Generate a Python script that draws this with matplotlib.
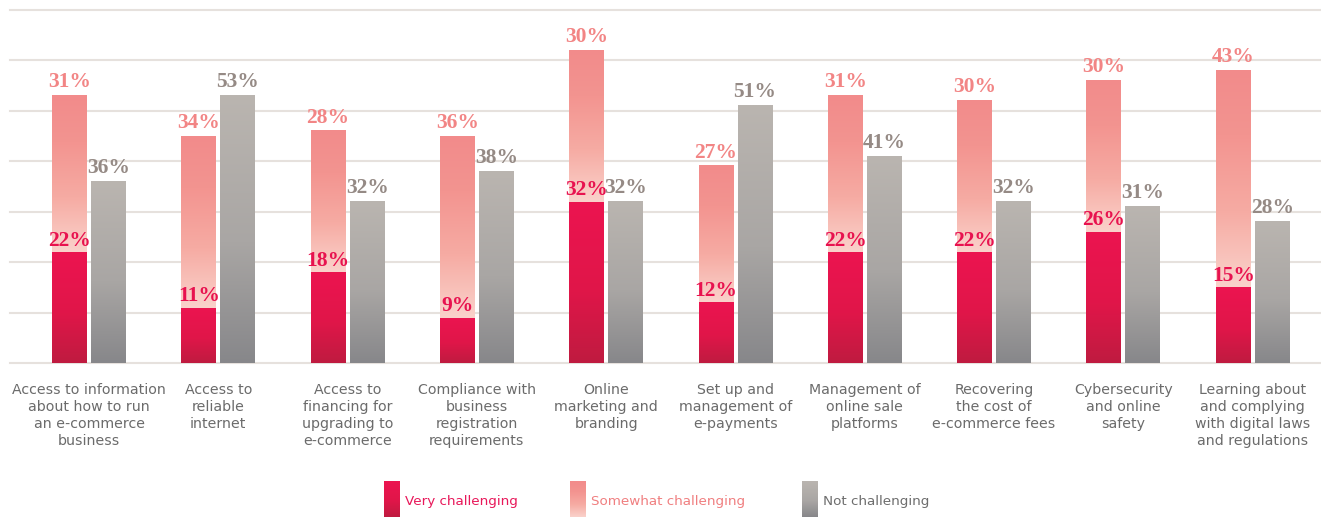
import numpy as np
import matplotlib
matplotlib.use('Agg')
import matplotlib.pyplot as plt
from matplotlib.colors import LinearSegmentedColormap

categories = [
    "Access to information\nabout how to run\nan e-commerce\nbusiness",
    "Access to\nreliable\ninternet",
    "Access to\nfinancing for\nupgrading to\ne-commerce",
    "Compliance with\nbusiness\nregistration\nrequirements",
    "Online\nmarketing and\nbranding",
    "Set up and\nmanagement of\ne-payments",
    "Management of\nonline sale\nplatforms",
    "Recovering\nthe cost of\ne-commerce fees",
    "Cybersecurity\nand online\nsafety",
    "Learning about\nand complying\nwith digital laws\nand regulations",
]
very = [22, 11, 18, 9, 32, 12, 22, 22, 26, 15]
somewhat = [31, 34, 28, 36, 30, 27, 31, 30, 30, 43]
not_chal = [36, 53, 32, 38, 32, 51, 41, 32, 31, 28]
series_names = ["Very challenging", "Somewhat challenging", "Not challenging"]

# gradients run bottom -> top
cm_very = LinearSegmentedColormap.from_list('very', [(0, '#bf1b40'), (0.45, '#e01649'), (1, '#ec1450')])
cm_some = LinearSegmentedColormap.from_list('some', [(0, '#fad2cb'), (0.35, '#f6aba3'), (0.7, '#f39490'), (1, '#f28b8b')])
cm_not = LinearSegmentedColormap.from_list('not', [(0, '#87878a'), (0.45, '#a9a6a4'), (1, '#bab5b0')])
col_very = '#e8124f'
col_some = '#f28585'
col_not = '#958a85'
grad = np.linspace(0, 1, 256).reshape(-1, 1)


def grad_bar(ax, x0, x1, y0, y1, cmap):
    ax.imshow(grad, cmap=cmap, extent=(x0, x1, y0, y1), origin='lower',
              aspect='auto', interpolation='bilinear', zorder=3)


fig = plt.figure(figsize=(13.21, 5.17), dpi=100)
ax = fig.add_axes([10 / 1321, 1 - 363 / 517, 1 - 10 / 1321, 353 / 517])

w = 0.27
off = 0.151
x = np.arange(len(categories))
for i in x:
    v, s, n = very[i], somewhat[i], not_chal[i]
    grad_bar(ax, i - off - w / 2, i - off + w / 2, 0, v, cm_very)
    grad_bar(ax, i - off - w / 2, i - off + w / 2, v, v + s, cm_some)
    grad_bar(ax, i + off - w / 2, i + off + w / 2, 0, n, cm_not)
    lab = dict(ha='center', va='bottom', fontsize=15.5, fontweight='bold',
               family='Liberation Serif', textcoords='offset points', zorder=5)
    ax.annotate(f"{v}%", (i - off, v), xytext=(0, 1), color=col_very, **lab)
    ax.annotate(f"{s}%", (i - off, v + s), xytext=(0, 2.5), color=col_some, **lab)
    ax.annotate(f"{n}%", (i + off, n), xytext=(0, 2.5), color=col_not, **lab)
    ax.text(i, -4, categories[i], ha='center', va='top', fontsize=10.2,
            color='#6b6b6b', linespacing=1.28, family='DejaVu Sans')

for yv in range(0, 71, 10):
    ax.axhline(yv, color='#e6e1dd', lw=1.5, zorder=1, clip_on=False)

ax.set_xlim(-0.611, 9.528)
ax.set_ylim(0, 70)
ax.axis('off')

# legend
lg = fig.add_axes([0, 0, 1, 1])
lg.axis('off')
leg_x = [384, 570, 802]
leg_cm = [cm_very, cm_some, cm_not]
leg_col = ['#e8185a', '#f07f80', '#6d6d6d']
for lx, cm, c, name in zip(leg_x, leg_cm, leg_col, series_names):
    lg.imshow(grad[::-1], cmap=cm, extent=(lx, lx + 16, 517, 481),
              aspect='auto', interpolation='bilinear')
    lg.text(lx + 21, 501, name, ha='left', va='center', fontsize=9.7, color=c)
lg.set_xlim(0, 1321)
lg.set_ylim(517, 0)

fig.savefig('out.png', dpi=100)
